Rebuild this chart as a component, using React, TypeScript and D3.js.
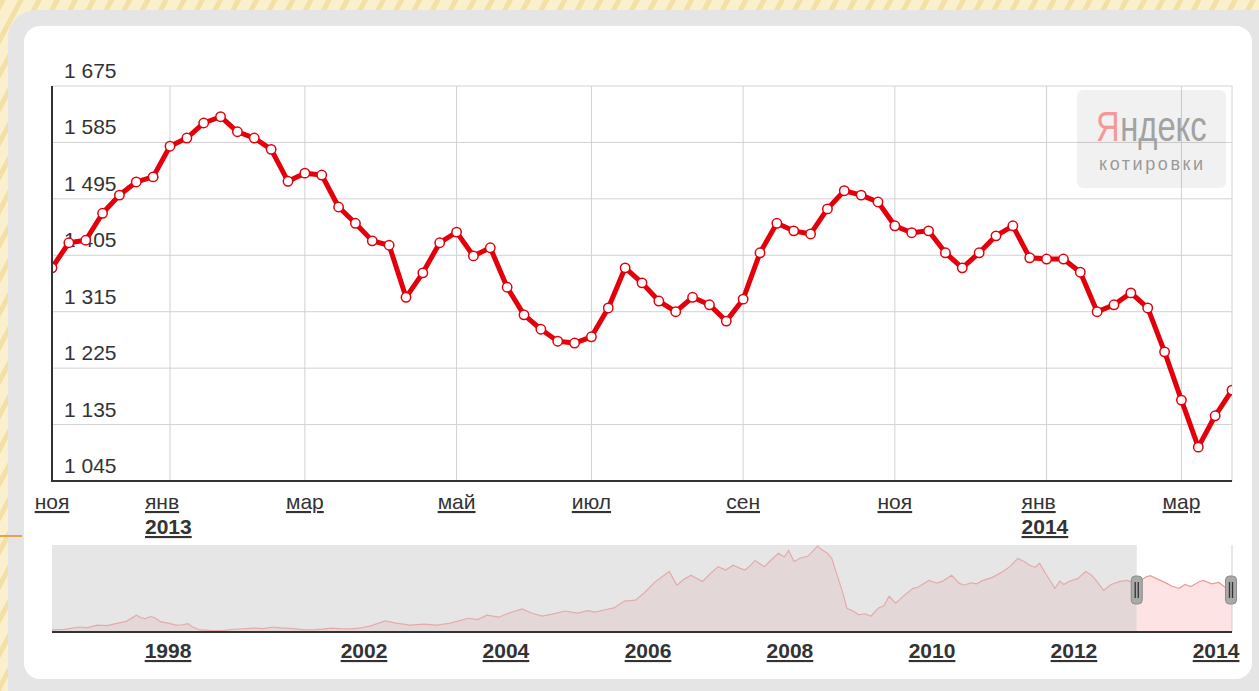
import React, { useMemo } from 'react';
import * as d3 from 'd3';

const W = 1259;
const H = 691;

// weekly closes of the index, first week starts 19 nov 2012
const firstWeek = '2012-11-19';
const weeklyValues = [
  1385, 1425, 1429, 1472, 1501, 1522, 1530, 1579, 1592, 1616,
  1626, 1602, 1592, 1574, 1523, 1536, 1533, 1482, 1456, 1428,
  1421, 1338, 1377, 1425, 1442, 1404, 1417, 1354, 1310, 1287,
  1268, 1265, 1275, 1321, 1385, 1361, 1332, 1315, 1338, 1326,
  1300, 1335, 1409, 1456, 1444, 1439, 1479, 1508, 1501, 1490,
  1452, 1441, 1444, 1409, 1385, 1409, 1436, 1452, 1401, 1399,
  1399, 1378, 1315, 1326, 1345, 1321, 1251, 1174, 1099, 1149,
  1190,
];

const yTicks = [1045, 1135, 1225, 1315, 1405, 1495, 1585, 1675];
const monthNames = ['янв', 'фев', 'мар', 'апр', 'май', 'июн', 'июл', 'авг', 'сен', 'окт', 'ноя', 'дек'];

// long history for the navigator strip
const navDates = [
  '1995-08-20', '1995-11-25', '1996-03-05', '1996-05-08', '1996-07-25', '1996-10-01', '1996-12-25',
  '1997-02-25', '1997-05-10', '1997-06-12', '1997-07-12', '1997-08-25', '1997-10-01', '1997-11-05',
  '1998-01-01', '1998-03-01', '1998-04-20', '1998-05-30', '1998-07-01', '1998-08-25', '1998-11-05',
  '1999-02-15', '1999-05-08', '1999-07-20', '1999-10-01', '1999-12-15',
  '2000-02-20', '2000-04-20', '2000-07-01', '2000-10-15',
  '2001-01-01', '2001-02-25', '2001-05-05', '2001-07-01', '2001-09-25', '2001-11-25',
  '2002-02-05', '2002-04-20', '2002-06-15', '2002-08-25', '2002-11-05',
  '2003-01-10', '2003-03-15', '2003-05-08', '2003-06-20', '2003-08-08', '2003-09-25', '2003-11-25',
  '2004-01-20', '2004-03-25', '2004-05-08', '2004-07-05', '2004-08-25', '2004-11-01',
  '2005-01-01', '2005-02-25', '2005-04-01', '2005-05-20', '2005-07-10', '2005-09-01', '2005-10-28', '2005-12-15',
  '2006-02-05', '2006-04-20', '2006-05-30', '2006-07-01', '2006-08-10', '2006-10-08', '2006-11-18', '2006-12-28',
  '2007-02-05', '2007-03-15', '2007-04-20', '2007-05-15', '2007-06-15', '2007-07-05', '2007-08-22', '2007-09-28',
  '2007-11-03', '2007-12-03', '2007-12-25',
  '2008-01-22', '2008-02-25', '2008-04-01', '2008-04-28', '2008-05-22', '2008-06-15', '2008-07-10', '2008-08-03',
  '2008-09-10', '2008-10-01', '2008-10-20', '2008-11-18', '2008-12-20',
  '2009-01-20', '2009-02-20', '2009-04-01', '2009-04-28', '2009-05-25', '2009-06-28', '2009-08-08', '2009-09-25',
  '2009-10-20', '2009-11-18', '2009-12-15',
  '2010-01-25', '2010-02-25', '2010-04-12', '2010-05-20', '2010-06-15', '2010-07-20', '2010-08-18', '2010-09-20',
  '2010-11-05',
  '2011-01-01', '2011-02-05', '2011-03-18', '2011-04-20', '2011-05-18', '2011-06-15', '2011-07-08', '2011-08-08',
  '2011-09-25', '2011-10-20', '2011-11-10', '2011-12-05',
  '2012-01-20', '2012-03-01', '2012-04-01', '2012-05-01', '2012-06-01', '2012-07-10', '2012-08-25', '2012-10-01',
  '2012-11-12',
  '2013-01-05', '2013-01-28', '2013-03-10', '2013-04-20', '2013-05-20', '2013-06-25', '2013-07-25', '2013-08-25',
  '2013-10-05', '2013-10-28', '2013-12-10',
  '2014-01-15', '2014-02-10', '2014-03-03', '2014-03-24',
];
const navValues = [
  60, 75, 145, 130, 200, 185, 260,
  310, 490, 420, 380, 450, 400, 300,
  260, 200, 210, 240, 150, 60, 45,
  40, 80, 95, 115, 100,
  145, 120, 105, 60,
  70, 85, 115, 100, 90, 110,
  180, 320, 260, 200, 230,
  200, 250, 330, 400, 360, 490, 430,
  560, 670, 560, 460, 520, 610,
  550, 620, 580, 640, 700, 900, 925, 1150,
  1450, 1760, 1360, 1520, 1650, 1470, 1700, 1900,
  1800, 1940, 1850, 1800, 1950, 2080, 1900, 2100,
  2290, 2180, 2370,
  2050, 2150, 2200, 2350, 2500, 2380, 2300, 2140,
  1470, 1100, 690, 620, 500,
  530, 460, 700, 760, 1040, 840, 1050, 1270,
  1300, 1400, 1500,
  1420, 1480, 1650, 1420, 1360, 1430, 1400, 1500,
  1580,
  1760, 1900, 2140, 2050, 1940, 1880, 2000, 1700,
  1270, 1480, 1380, 1470,
  1550, 1760, 1650, 1450, 1210, 1380, 1470, 1500,
  1400,
  1600, 1640, 1530, 1420, 1330, 1270, 1380, 1320,
  1460, 1500, 1400,
  1440, 1330, 1240, 1190,
];
const navYears = [1998, 2002, 2004, 2006, 2008, 2010, 2012, 2014];
// the strip is denser after 2002, so its time axis has a knee there
const navBreaks = ['1995-08-20', '2002-01-01', '2014-03-24'];

const FONT = 'Arial, "Liberation Sans", sans-serif';
const RED = '#e3000b';

const plot = { left: 52, right: 1232, top: 86, bottom: 481 };
const nav = { left: 52, right: 1232, top: 545, bottom: 632 };

export default function App() {
  const parse = d3.timeParse('%Y-%m-%d');

  const series = useMemo(() => {
    const start = parse(firstWeek) as Date;
    return weeklyValues.map((v, i) => ({ date: d3.timeWeek.offset(start, i), value: v }));
  }, []);

  const navData = useMemo(
    () => navDates.map((d, i) => ({ date: parse(d) as Date, value: navValues[i] })),
    []
  );

  const x = d3.scaleTime()
    .domain([series[0].date, series[series.length - 1].date])
    .range([plot.left, plot.right]);
  const y = d3.scaleLinear().domain([1045, 1675]).range([plot.bottom, plot.top]);

  const navX = d3.scaleTime<number>()
    .domain(navBreaks.map(d => parse(d) as Date))
    .range([nav.left, 364, nav.right]);
  const navY = d3.scaleLinear().domain([0, 2500]).range([nav.bottom, nav.top + 1]);

  const fmt = d3.formatLocale({ decimal: ',', thousands: '\u00a0', grouping: [3], currency: ['', ''] }).format(',d');

  // month ticks: first point, then first week of every odd month
  const ticks: { date: Date; label: string; year: number | null }[] = [];
  series.forEach((d, i) => {
    const m = d.date.getMonth();
    if (i === 0 || (m !== series[i - 1].date.getMonth() && m % 2 === 0)) {
      ticks.push({ date: d.date, label: monthNames[m], year: m === 0 ? d.date.getFullYear() : null });
    }
  });

  const line = d3.line<{ date: Date; value: number }>()
    .x(d => x(d.date))
    .y(d => y(d.value));

  const navArea = d3.area<{ date: Date; value: number }>()
    .x(d => navX(d.date))
    .y0(nav.bottom)
    .y1(d => navY(d.value));
  const navLine = navArea.lineY1();

  const selStart = navX(series[0].date);
  const selEnd = navX(series[series.length - 1].date);

  const handle = (cx: number, key: string) => (
    <g key={key} transform={`translate(${cx},590)`}>
      <rect x={-5.5} y={-14} width={11} height={28} rx={4} fill="#a9a9a9" stroke="#8c8c8c" />
      <line x1={-1.5} x2={-1.5} y1={-8} y2={8} stroke="#333" strokeWidth={1.3} />
      <line x1={1.5} x2={1.5} y1={-8} y2={8} stroke="#333" strokeWidth={1.3} />
    </g>
  );

  return (
    <svg width={W} height={H} style={{ position: 'absolute', left: 0, top: 0 }} fontFamily={FONT}>
      <defs>
        <pattern id="slide" width="16" height="16" patternUnits="userSpaceOnUse" patternTransform="rotate(28)">
          <rect width="16" height="16" fill="#fbf0cd" />
          <rect width="5" height="16" fill="#f3e0a6" />
        </pattern>
        <clipPath id="plotClip">
          <rect x={plot.left} y={plot.top - 10} width={plot.right - plot.left} height={plot.bottom - plot.top + 20} />
        </clipPath>
        <clipPath id="navOff">
          <rect x={nav.left} y={nav.top} width={selStart - nav.left} height={nav.bottom - nav.top} />
        </clipPath>
        <clipPath id="navOn">
          <rect x={selStart} y={nav.top} width={nav.right - selStart} height={nav.bottom - nav.top} />
        </clipPath>
      </defs>

      {/* slide background and frame */}
      <rect width={W} height={H} fill="url(#slide)" />
      <rect x={8} y={10} width={W + 40} height={H + 40} rx={28} fill="#e5e5e5" />
      <line x1={0} x2={22} y1={536} y2={536} stroke="#e9a24a" strokeWidth={2} />
      <rect x={24} y={26} width={1228} height={653} rx={16} fill="#ffffff" />

      {/* grid */}
      {yTicks.map(t => (
        <line key={`gy${t}`} x1={plot.left} x2={plot.right} y1={y(t)} y2={y(t)} stroke="#d2d2d2" />
      ))}
      {ticks.slice(1).map((t, i) => (
        <line key={`gx${i}`} x1={x(t.date)} x2={x(t.date)} y1={plot.top} y2={plot.bottom} stroke="#d2d2d2" />
      ))}
      <line x1={plot.right} x2={plot.right} y1={plot.top} y2={plot.bottom} stroke="#d2d2d2" />

      {/* watermark */}
      <g>
        <rect x={1077} y={90} width={149} height={98} rx={6} fill="rgba(0,0,0,0.055)" />
        <g transform="translate(1096,141) scale(0.78,1)" fontSize={42}>
          <text x={0} y={0} fill="#f29a9a">Я</text>
          <text x={31} y={0} fill="#a2a2a2">ндекс</text>
        </g>
        <text x={1099} y={170} fontSize={18} textLength={104} lengthAdjust="spacing" fill="#9a9a9a">котировки</text>
      </g>

      {/* y labels */}
      {yTicks.map(t => (
        <text key={`ly${t}`} x={64} y={y(t) - 8} fontSize={21} fill="#333">{fmt(t)}</text>
      ))}

      {/* series */}
      <g clipPath="url(#plotClip)">
        <path d={line(series) ?? ''} fill="none" stroke={RED} strokeWidth={5} strokeLinejoin="round" />
        {series.map((d, i) => (
          <circle key={i} cx={x(d.date)} cy={y(d.value)} r={4.7} fill="#fff" stroke={RED} strokeWidth={1.5} />
        ))}
      </g>

      {/* axes */}
      <line x1={plot.left} x2={plot.left} y1={plot.top} y2={plot.bottom + 1} stroke="#333" strokeWidth={2} />
      <line x1={plot.left} x2={plot.right} y1={plot.bottom} y2={plot.bottom} stroke="#333" strokeWidth={2} />

      {/* month labels */}
      {ticks.map((t, i) => {
        const cx = x(t.date);
        if (t.year) {
          return (
            <g key={`lx${i}`} fill="#333" style={{ textDecoration: 'underline' }}>
              <text x={cx - 25} y={509} fontSize={21}>{t.label}</text>
              <text x={cx - 25} y={534} fontSize={21} fontWeight="bold">{t.year}</text>
            </g>
          );
        }
        return (
          <text key={`lx${i}`} x={cx} y={509} fontSize={21} textAnchor="middle" fill="#333"
            style={{ textDecoration: 'underline' }}>{t.label}</text>
        );
      })}

      {/* navigator */}
      <rect x={nav.left} y={nav.top} width={selStart - nav.left} height={nav.bottom - nav.top} fill="#e6e6e6" />
      <g clipPath="url(#navOff)">
        <path d={navArea(navData) ?? ''} fill="#e3d7d7" />
        <path d={navLine(navData) ?? ''} fill="none" stroke="#e4abab" strokeWidth={1.2} />
      </g>
      <g clipPath="url(#navOn)">
        <path d={navArea(navData) ?? ''} fill="#fde3e3" />
        <path d={navLine(navData) ?? ''} fill="none" stroke="#ec9a9a" strokeWidth={1.2} />
      </g>
      <line x1={nav.right} x2={nav.right} y1={nav.top} y2={nav.bottom} stroke="#cfcfcf" />
      <line x1={nav.left} x2={nav.right} y1={nav.bottom} y2={nav.bottom} stroke="#333" strokeWidth={2} />
      {handle(selStart, 'h0')}
      {handle(selEnd - 1, 'h1')}

      {navYears.map(yr => (
        <text key={`ny${yr}`} x={navX(new Date(yr, 0, 1))} y={658} fontSize={21} fontWeight="bold"
          textAnchor="middle" fill="#333" style={{ textDecoration: 'underline' }}>{yr}</text>
      ))}
    </svg>
  );
}
